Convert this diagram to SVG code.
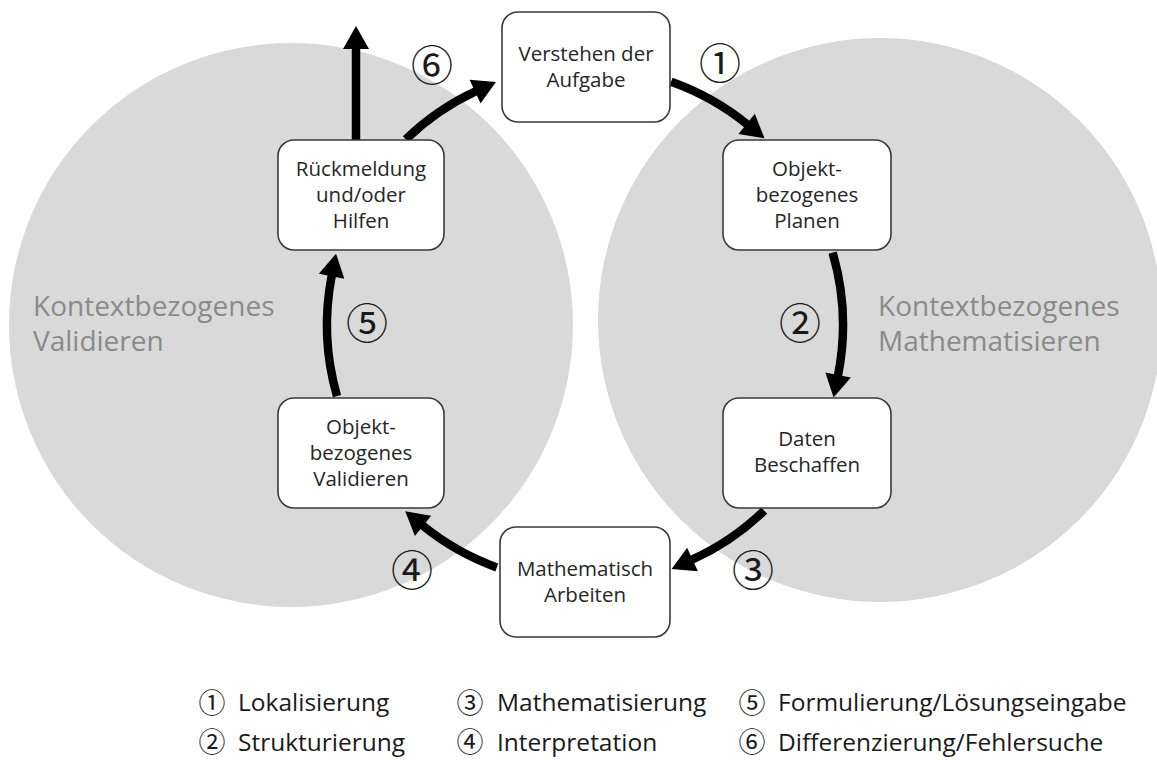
<svg xmlns="http://www.w3.org/2000/svg" width="1157" height="760" viewBox="0 0 1157 760">
<style>
.zone{fill:#d9d9d9}
.box{fill:#ffffff;stroke:#3a3a3a;stroke-width:1.6}
.bt{font-family:"Open Sans","Noto Sans",sans-serif;font-size:20.5px;fill:#262626;text-anchor:middle}
.zl{font-family:"Open Sans","Noto Sans",sans-serif;font-size:28px;fill:#8a8a8a}
.num{font-family:"Noto Sans CJK JP","DejaVu Sans",sans-serif;font-size:42px;fill:#1a1a1a;text-anchor:middle}
.lnum{font-family:"Noto Sans CJK JP","DejaVu Sans",sans-serif;font-size:27px;fill:#1a1a1a;text-anchor:middle}
.lt{font-family:"Open Sans","Noto Sans",sans-serif;font-size:24.5px;fill:#1a1a1a}
.arr{fill:none;stroke:#000000;stroke-width:8.5;marker-end:url(#head)}
</style>
<defs>
<marker id="head" markerUnits="userSpaceOnUse" markerWidth="24" markerHeight="26" viewBox="0 0 23 26" refX="1" refY="13" orient="auto">
<path d="M0,0 L23,13 L0,26 z" fill="#000000"/>
</marker>
</defs>
<rect width="1157" height="760" fill="#ffffff"/>
<g id="zones">
<circle class="zone" cx="291" cy="325" r="282"/>
<circle class="zone" cx="880" cy="320" r="282"/>
<text class="zl" x="33" y="316">Kontextbezogenes</text>
<text class="zl" x="33" y="351">Validieren</text>
<text class="zl" x="878" y="316">Kontextbezogenes</text>
<text class="zl" x="878" y="351">Mathematisieren</text>
</g>
<g id="connectors">
<path class="arr" d="M356,140 L356,48"/>
<path class="arr" d="M405.8,139.4 A258,258 0 0 1 476,91.2"/>
<path class="arr" d="M671.1,81.8 A258,258 0 0 1 747.4,124.5"/>
<path class="arr" d="M832.6,252.6 A258,258 0 0 1 837.9,376"/>
<path class="arr" d="M764.2,510.6 A258,258 0 0 1 691.6,559.9"/>
<path class="arr" d="M496.8,567.4 A258,258 0 0 1 422.3,525.2"/>
<path class="arr" d="M337,396.1 A258,258 0 0 1 331.8,275.3"/>
<text class="num" x="432" y="80.5">⑥</text>
<text class="num" x="720" y="78.5">①</text>
<text class="num" x="800" y="338.5">②</text>
<text class="num" x="753" y="585.5">③</text>
<text class="num" x="412" y="585.5">④</text>
<text class="num" x="367" y="338.5">⑤</text>
</g>
<g id="n-verstehen">
<rect class="box" x="502" y="12" width="168" height="110" rx="16"/>
<text class="bt" x="586" y="61">Verstehen der</text>
<text class="bt" x="586" y="87">Aufgabe</text>
</g>
<g id="n-planen">
<rect class="box" x="723" y="140" width="168" height="110" rx="16"/>
<text class="bt" x="807" y="176">Objekt-</text>
<text class="bt" x="807" y="202">bezogenes</text>
<text class="bt" x="807" y="228">Planen</text>
</g>
<g id="n-daten">
<rect class="box" x="723" y="398" width="168" height="110" rx="16"/>
<text class="bt" x="807" y="446">Daten</text>
<text class="bt" x="807" y="472">Beschaffen</text>
</g>
<g id="n-arbeiten">
<rect class="box" x="500" y="527" width="170" height="110" rx="16"/>
<text class="bt" x="585" y="576">Mathematisch</text>
<text class="bt" x="585" y="602">Arbeiten</text>
</g>
<g id="n-validieren">
<rect class="box" x="278" y="398" width="166" height="110" rx="16"/>
<text class="bt" x="361" y="434">Objekt-</text>
<text class="bt" x="361" y="460">bezogenes</text>
<text class="bt" x="361" y="486">Validieren</text>
</g>
<g id="n-rueckmeldung">
<rect class="box" x="278" y="140" width="166" height="110" rx="16"/>
<text class="bt" x="361" y="176">Rückmeldung</text>
<text class="bt" x="361" y="202">und/oder</text>
<text class="bt" x="361" y="228">Hilfen</text>
</g>
<g id="legend">
<text class="lnum" x="212" y="712.5">①</text>
<text class="lt" x="238" y="711">Lokalisierung</text>
<text class="lnum" x="212" y="752">②</text>
<text class="lt" x="238" y="751">Strukturierung</text>
<text class="lnum" x="470" y="712.5">③</text>
<text class="lt" x="497" y="711">Mathematisierung</text>
<text class="lnum" x="470" y="752">④</text>
<text class="lt" x="497" y="751">Interpretation</text>
<text class="lnum" x="752" y="712.5">⑤</text>
<text class="lt" x="778" y="711">Formulierung/Lösungseingabe</text>
<text class="lnum" x="752" y="752">⑥</text>
<text class="lt" x="778" y="751">Differenzierung/Fehlersuche</text>
</g>
</svg>
